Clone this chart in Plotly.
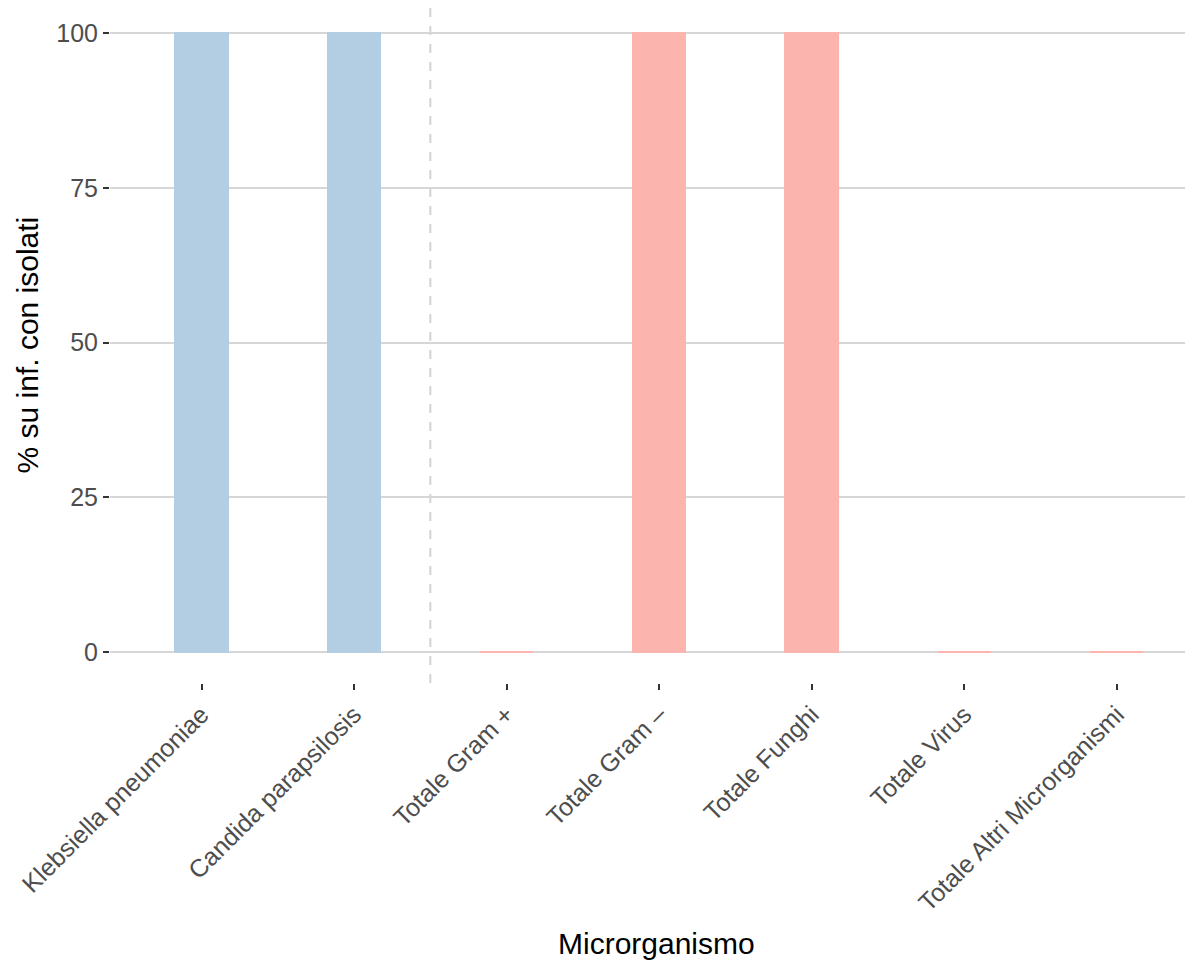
import plotly.graph_objects as go

categories = ["Klebsiella pneumoniae", "Candida parapsilosis", "Totale Gram +",
              "Totale Gram –", "Totale Funghi", "Totale Virus",
              "Totale Altri Microrganismi"]
values = [100, 100, 0, 100, 100, 0, 0]
groups = ["micro", "micro", "tot", "tot", "tot", "tot", "tot"]
group_colors = {"micro": "#B3CDE3", "tot": "#FBB4AE"}

colors = [group_colors[g] for g in groups]
xs = list(range(len(categories)))

fig = go.Figure()
fig.add_trace(go.Bar(
    x=xs, y=values, width=0.345,
    marker=dict(color=colors, line=dict(color=colors, width=2)),
    showlegend=False, hoverinfo="x+y",
))

fig.add_shape(type="line", xref="x", yref="paper", x0=1.5, x1=1.5, y0=0, y1=1,
              line=dict(color="#d3d3d3", width=2, dash="dash"), layer="below")

fig.update_layout(
    width=1185, height=953,
    margin=dict(l=102, r=0, t=0, b=278),
    plot_bgcolor="white", paper_bgcolor="white",
    font=dict(family="Liberation Sans, Arial, sans-serif"),
    bargap=0,
    annotations=[
        dict(text="Microrganismo", xref="paper", yref="paper", x=0.505, y=0,
             xanchor="center", yanchor="middle", yshift=-260, showarrow=False,
             font=dict(size=30, color="black")),
        dict(text="% su inf. con isolati", xref="paper", yref="paper", x=0, y=0.5,
             xanchor="center", yanchor="middle", xshift=-83, textangle=-90,
             showarrow=False, font=dict(size=30, color="black")),
    ],
)
fig.update_xaxes(
    range=[-0.6, 6.5], tickmode="array", tickvals=xs, ticktext=categories,
    tickangle=-45, showgrid=False, zeroline=False, showline=False,
    ticks="outside", ticklen=6, tickwidth=2, tickcolor="#333333",
    tickfont=dict(size=25, color="#4d4d4d"),
)
fig.update_yaxes(
    range=[-5, 104.04], tickvals=[0, 25, 50, 75, 100],
    showgrid=True, gridcolor="#d6d6d6", gridwidth=2, zeroline=False, showline=False,
    ticks="outside", ticklen=6, tickwidth=2, tickcolor="#333333",
    tickfont=dict(size=25, color="#4d4d4d"),
)

fig.write_html("out.html")
